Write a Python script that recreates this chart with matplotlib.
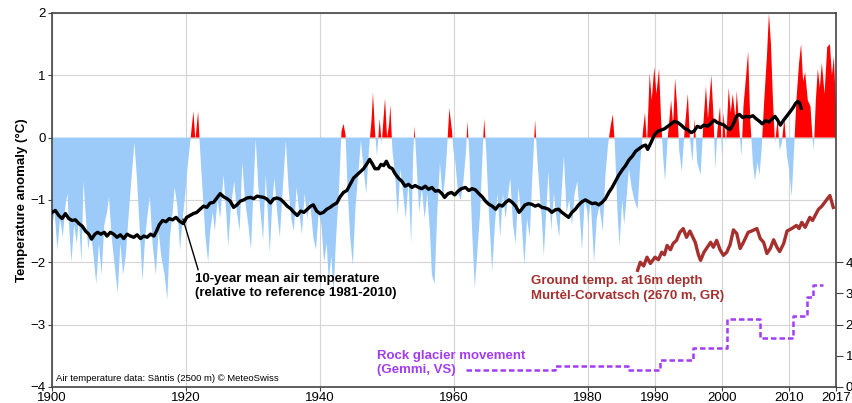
import matplotlib
matplotlib.use('Agg')
import matplotlib.pyplot as plt
import numpy as np

plt.rcParams['font.family'] = ['Liberation Sans', 'DejaVu Sans']
plt.rcParams['font.size'] = 9.5

# air temperature anomaly, Saentis (deg C, vertices of the curve)
air_years = [
    1900.0, 1900.4, 1900.8, 1901.2, 1901.6, 1902.0, 1902.3, 1902.6, 1902.9, 1903.3,
    1903.7, 1904.0, 1904.4, 1904.7, 1905.0, 1905.4, 1905.8, 1906.2, 1906.6, 1907.0,
    1907.4, 1907.8, 1908.2, 1908.5, 1908.9, 1909.3, 1909.8, 1910.2, 1910.6, 1911.0,
    1911.4, 1911.9, 1912.3, 1912.7, 1913.1, 1913.5, 1913.9, 1914.3, 1914.6, 1915.0,
    1915.5, 1915.9, 1916.3, 1916.8, 1917.2, 1917.6, 1918.0, 1918.3, 1918.7, 1919.1,
    1919.5, 1919.9,
    1920.2, 1920.6, 1921.1, 1921.4, 1921.8, 1922.1, 1922.5, 1922.9, 1923.3, 1923.6,
    1924.0, 1924.3, 1924.7, 1925.1, 1925.6, 1926.0, 1926.3, 1926.7, 1927.2, 1927.6,
    1928.0, 1928.4, 1928.8, 1929.3, 1929.7, 1930.0, 1930.4, 1930.8, 1931.2, 1931.5,
    1931.9, 1932.2, 1932.5, 1932.9, 1933.2, 1933.6, 1934.0, 1934.4, 1934.9, 1935.3,
    1935.7, 1936.1, 1936.5, 1936.9, 1937.3, 1937.7, 1938.1, 1938.5, 1939.0, 1939.4,
    1939.8,
    1940.2, 1940.6, 1941.0, 1941.3, 1941.7, 1942.0, 1942.4, 1942.8, 1943.2, 1943.5,
    1943.8, 1944.1, 1944.5, 1944.9, 1945.3, 1945.7, 1946.1, 1946.5, 1946.9, 1947.3,
    1947.7, 1947.9, 1948.2, 1948.5, 1948.9, 1949.2, 1949.7, 1950.0, 1950.3, 1950.5,
    1950.8, 1951.2, 1951.6, 1952.0, 1952.4, 1952.8, 1953.2, 1953.6, 1953.9, 1954.1,
    1954.4, 1954.8, 1955.2, 1955.6, 1956.0, 1956.4, 1956.7, 1957.1, 1957.5, 1957.9,
    1958.3, 1958.7, 1959.0, 1959.3, 1959.7, 1959.9,
    1960.2, 1960.6, 1961.0, 1961.4, 1961.8, 1962.0, 1962.3, 1962.7, 1963.1, 1963.5,
    1963.9, 1964.2, 1964.5, 1964.8, 1965.2, 1965.7, 1966.1, 1966.5, 1966.9, 1967.3,
    1967.7, 1968.1, 1968.4, 1968.8, 1969.2, 1969.6, 1970.0, 1970.5, 1970.9, 1971.3,
    1971.7, 1972.1, 1972.4, 1972.8, 1973.1, 1973.4, 1973.8, 1974.1, 1974.5, 1974.9,
    1975.3, 1975.7, 1976.1, 1976.4, 1976.8, 1977.2, 1977.6, 1978.0, 1978.4, 1978.8,
    1979.1, 1979.5, 1979.9,
    1980.0, 1980.4, 1980.9, 1981.3, 1981.7, 1982.2, 1982.6, 1983.0, 1983.4, 1983.7,
    1984.0, 1984.4, 1984.7, 1985.1, 1985.4, 1985.8, 1986.1, 1986.5, 1986.9, 1987.4,
    1987.8, 1988.2, 1988.5, 1988.8, 1989.2, 1989.5, 1989.9, 1990.2, 1990.6, 1990.9,
    1991.2, 1991.5, 1991.9, 1992.4, 1992.7, 1993.0, 1993.3, 1993.6, 1994.0, 1994.4,
    1994.9, 1995.2, 1995.6, 1995.9, 1996.3, 1996.8, 1997.2, 1997.6, 1997.9, 1998.4,
    1998.7, 1999.0, 1999.3, 1999.7, 2000.0,
    2000.2, 2000.6, 2001.0, 2001.3, 2001.6, 2002.0, 2002.2, 2002.6, 2002.9, 2003.2,
    2003.6, 2003.9, 2004.2, 2004.6, 2004.9, 2005.3, 2005.6, 2005.9, 2006.3, 2006.7,
    2007.0, 2007.3, 2007.6, 2007.9, 2008.3, 2008.6, 2008.9, 2009.3, 2009.7, 2010.0,
    2010.4, 2010.7, 2011.1, 2011.5, 2011.8, 2012.1, 2012.4, 2012.8, 2013.2, 2013.5,
    2013.7, 2014.0, 2014.3, 2014.6, 2014.9, 2015.3, 2015.7, 2016.1, 2016.4, 2016.7,
    2017.0,
]
air_anom = [
    -1.4, -1.2, -1.8, -1.3, -1.6, -1.1, -0.9, -1.5, -2.0, -1.4,
    -1.7, -1.3, -2.0, -0.7, -1.2, -1.8, -1.5, -1.9, -2.35, -1.7,
    -2.2, -1.4, -1.2, -0.95, -1.6, -2.0, -2.5, -1.7, -2.2, -1.9,
    -1.3, -0.6, -0.08, -0.7, -1.5, -2.3, -1.6, -1.2, -0.95, -1.7,
    -2.2, -1.5, -1.9, -2.2, -2.6, -1.6, -1.2, -0.8, -1.1, -1.8,
    -1.3, -0.9,
    -0.5, -0.1, 0.42, -0.05, 0.42, -0.2, -0.9, -1.6, -2.0, -1.5,
    -1.2, -1.5, -1.0, -1.3, -0.6, -1.2, -1.75, -1.1, -0.7, -1.2,
    -1.5, -0.4, -1.0, -1.4, -1.8, -1.0, -0.02, -0.8, -1.3, -1.65,
    -0.6, -1.2, -1.85, -1.0, -0.65, -1.2, -1.6, -0.9, -0.05, -0.8,
    -1.3, -1.5, -0.8, -1.2, -1.55, -0.9, -1.3, -1.0, -1.6, -1.8,
    -1.2,
    -1.4, -2.0, -1.7, -2.3, -1.9, -2.5, -1.6, -0.9, 0.1, 0.22,
    0.05, -0.8, -1.6, -2.05, -1.1, -0.6, -0.05, -0.5, -0.9, -0.2,
    0.3, 0.72, 0.1, -0.3, 0.3, -0.1, 0.63, 0.0, 0.2, 0.52,
    -0.2, -0.6, -1.25, -0.5, -0.9, -1.3, -0.7, -1.7, -0.3, 0.18,
    -0.4, -1.2, -0.8, -1.3, -0.9, -1.5, -2.2, -2.35, -1.2, -0.4,
    -1.0, -0.6, -0.1, 0.47, 0.1, -0.2,
    -0.4, -0.9, -1.0, -0.7, -0.2, 0.26, -0.3, -1.5, -2.42, -1.8,
    -1.2, -0.4, 0.3, -0.2, -1.2, -2.15, -1.4, -0.9, -1.6, -0.9,
    -1.3, -0.9, -0.65, -1.4, -1.7, -0.8, -1.2, -2.05, -1.3, -1.6,
    -0.6, 0.28, -0.3, -0.9, -1.3, -1.9, -1.1, -0.55, -1.5, -0.9,
    -1.3, -1.6, -0.8, -0.3, -1.2, -1.0, -1.4, -0.9, -0.7, -1.3,
    -1.8, -1.0, -1.2,
    -1.4, -1.0, -2.0, -1.3, -1.1, -1.5, -0.6, -0.1, 0.2, 0.37,
    -0.1, -1.2, -1.75, -1.0, -1.4, -0.9, -0.5, -0.8, -1.0, -1.15,
    -0.4, 0.1, 0.4, -0.1, 1.03, 0.6, 1.13, 0.7, 1.1, 0.3,
    -0.3, -0.7, 0.0, 0.6, 0.2, 0.95, 0.5, -0.2, -0.55, 0.1,
    0.7, 0.0, -0.4, 0.3, -0.4, -0.6, 0.2, 0.82, 0.3, 1.0,
    0.4, -0.5, 0.1, 0.5, -0.3,
    0.4, -0.1, 0.8, 0.4, 0.7, 0.3, 0.75, 0.1, -0.3, 0.5,
    1.0, 1.38, 0.3, -0.4, -0.69, -0.4, -0.6, -0.2, 0.6, 1.3,
    1.99, 1.5, 0.6, -0.1, 0.3, -0.2, -0.1, 0.3, -0.3, -0.5,
    -0.95, -0.3, 0.6, 1.2, 1.5, 0.9, 1.05, 0.6, 0.5, 0.0,
    -0.2, 0.6, 1.1, 0.8, 1.2, 0.7, 1.45, 1.5, 1.0, 1.3,
    0.5,
]

# 10-year mean air temperature (deg C)
mean_years = [
    1900.0, 1900.5, 1901.0, 1901.5, 1902.0, 1902.5, 1903.0, 1903.5, 1904.0, 1904.5,
    1905.0, 1905.5, 1905.9, 1906.4, 1906.8, 1907.3, 1907.8, 1908.2, 1908.7, 1909.2,
    1909.7, 1910.2, 1910.7, 1911.2, 1911.7, 1912.2, 1912.7, 1913.2, 1913.7, 1914.2,
    1914.7, 1915.2, 1915.6, 1916.0, 1916.5, 1917.0, 1917.5, 1918.0, 1918.5, 1919.0,
    1919.6, 1920.1, 1920.6, 1921.1, 1921.6, 1922.1, 1922.6, 1923.1, 1923.6, 1924.1,
    1924.6, 1925.1, 1925.6, 1926.1, 1926.6, 1927.1, 1927.6, 1928.1, 1928.6, 1929.1,
    1929.6, 1930.1, 1930.6, 1931.1, 1931.6, 1932.1, 1932.6, 1933.1, 1933.6, 1934.1,
    1934.6, 1935.1, 1935.6, 1936.1, 1936.6, 1937.1, 1937.6, 1938.1, 1938.6, 1939.0,
    1939.5, 1940.0, 1940.5, 1941.0, 1941.5, 1942.0, 1942.5, 1943.0, 1943.5, 1944.0,
    1944.5, 1945.0, 1945.5, 1946.0, 1946.5, 1947.0, 1947.4, 1947.8, 1948.2, 1948.7,
    1949.1, 1949.5, 1949.9, 1950.3, 1950.8, 1951.2, 1951.7, 1952.2, 1952.7, 1953.2,
    1953.7, 1954.2, 1954.7, 1955.2, 1955.7, 1956.2, 1956.7, 1957.2, 1957.7, 1958.2,
    1958.6, 1959.1, 1959.6, 1960.1, 1960.6, 1961.1, 1961.7, 1962.2, 1962.7, 1963.2,
    1963.7, 1964.2, 1964.7, 1965.2, 1965.7, 1966.2, 1966.7, 1967.2, 1967.7, 1968.2,
    1968.7, 1969.2, 1969.7, 1970.1, 1970.6, 1971.1, 1971.6, 1972.1, 1972.6, 1973.1,
    1973.6, 1974.1, 1974.6, 1975.1, 1975.6, 1976.1, 1976.6, 1977.1, 1977.6, 1978.1,
    1978.6, 1979.1, 1979.6, 1980.1, 1980.6, 1981.1, 1981.6, 1982.1, 1982.6, 1983.1,
    1983.6, 1984.1, 1984.6, 1985.1, 1985.6, 1986.1, 1986.6, 1987.1, 1987.6, 1988.1,
    1988.6, 1988.9, 1989.4, 1989.9, 1990.4, 1990.9, 1991.4, 1991.9, 1992.4, 1992.9,
    1993.4, 1993.9, 1994.4, 1994.9, 1995.4, 1995.8, 1996.3, 1996.8, 1997.3, 1997.8,
    1998.3, 1998.8, 1999.3, 1999.8, 2000.3, 2000.8, 2001.2, 2001.7, 2002.2, 2002.6,
    2003.1, 2003.6, 2004.1, 2004.6, 2005.1, 2005.6, 2006.0, 2006.5, 2007.0, 2007.5,
    2007.9, 2008.3, 2008.7, 2009.2, 2009.7, 2010.2, 2010.6, 2011.0, 2011.3, 2011.6,
    2011.8,
]
mean_temp = [
    -1.2, -1.17, -1.25, -1.3, -1.22, -1.3, -1.33, -1.32, -1.38, -1.42,
    -1.5, -1.55, -1.63, -1.55, -1.52, -1.55, -1.52, -1.58, -1.52, -1.55,
    -1.6, -1.56, -1.62, -1.55, -1.58, -1.6, -1.56, -1.62, -1.58, -1.6,
    -1.55, -1.58, -1.5, -1.4, -1.33, -1.35, -1.3, -1.32, -1.28, -1.34,
    -1.38, -1.28, -1.25, -1.22, -1.2, -1.15, -1.1, -1.12, -1.05, -1.04,
    -0.97, -0.9, -0.95, -0.98, -1.02, -1.12, -1.08, -1.02, -1.0, -0.97,
    -0.96, -0.98, -0.94, -0.95, -0.96, -0.99, -1.05, -0.98, -0.97, -0.99,
    -1.04, -1.1, -1.14, -1.2, -1.25, -1.18, -1.2, -1.15, -1.1, -1.08,
    -1.18, -1.22, -1.2, -1.15, -1.12, -1.08, -1.05, -0.95, -0.88, -0.85,
    -0.75, -0.65, -0.6, -0.55, -0.5, -0.42, -0.35, -0.42, -0.5, -0.5,
    -0.43, -0.45, -0.38, -0.47, -0.5, -0.58, -0.65, -0.7, -0.78, -0.75,
    -0.8, -0.77, -0.8, -0.82, -0.78, -0.83, -0.8, -0.86, -0.85, -0.9,
    -0.96, -0.9, -0.88, -0.92, -0.86, -0.82, -0.8, -0.85, -0.82, -0.84,
    -0.9, -0.95, -1.02, -1.07, -1.1, -1.15, -1.08, -1.1, -1.04, -1.0,
    -1.04, -1.1, -1.2, -1.15, -1.08, -1.06, -1.07, -1.1, -1.08, -1.12,
    -1.13, -1.15, -1.2, -1.16, -1.15, -1.2, -1.24, -1.28, -1.2, -1.15,
    -1.08, -1.03, -1.0, -1.03, -1.06, -1.05, -1.08, -1.04, -0.98, -0.88,
    -0.8, -0.7, -0.6, -0.52, -0.45, -0.36, -0.3, -0.22, -0.18, -0.14,
    -0.12, -0.19, -0.08, 0.04, 0.1, 0.12, 0.14, 0.18, 0.22, 0.26,
    0.24, 0.2, 0.15, 0.12, 0.08, 0.1, 0.18, 0.16, 0.2, 0.18,
    0.22, 0.28, 0.24, 0.22, 0.2, 0.15, 0.13, 0.22, 0.35, 0.37,
    0.32, 0.34, 0.33, 0.35, 0.3, 0.26, 0.22, 0.27, 0.25, 0.3,
    0.34, 0.28, 0.2, 0.28, 0.35, 0.42, 0.48, 0.55, 0.58, 0.55,
    0.47,
]

# ground temperature at 16 m depth, Murtel-Corvatsch (drawn on the left scale)
ground_years = [
    1987.4, 1987.8, 1988.3, 1988.8, 1989.3, 1990.0, 1990.5, 1991.0, 1991.4, 1991.8,
    1992.3, 1992.7, 1993.2, 1993.7, 1994.2, 1994.7, 1995.2, 1996.0, 1996.5, 1996.8,
    1997.3, 1997.8, 1998.3, 1998.7, 1999.2, 1999.7, 2000.2, 2000.7, 2001.2, 2001.7,
    2002.2, 2002.7, 2003.2, 2003.9, 2004.4, 2005.2, 2005.7, 2006.2, 2006.7, 2007.2,
    2007.7, 2008.2, 2008.6, 2009.2, 2009.7, 2010.4, 2011.1, 2011.5, 2011.9, 2012.4,
    2013.1, 2013.5, 2014.4, 2014.9, 2015.6, 2016.1, 2016.6,
]
ground_temp = [
    -2.13, -2.0, -2.06, -1.92, -2.02, -1.92, -1.96, -1.84, -1.88, -1.73,
    -1.8, -1.7, -1.65, -1.52, -1.46, -1.6, -1.5, -1.68, -1.89, -1.97,
    -1.84, -1.76, -1.68, -1.76, -1.65, -1.8, -1.89, -1.84, -1.72, -1.48,
    -1.54, -1.78, -1.68, -1.52, -1.5, -1.46, -1.62, -1.68, -1.86, -1.78,
    -1.64, -1.76, -1.83, -1.7, -1.5, -1.46, -1.41, -1.46, -1.36, -1.44,
    -1.28, -1.33, -1.15, -1.1, -1.0, -0.93, -1.12,
]

# rock glacier movement, Gemmi (right scale)
rock_years = [1961.8, 1975.0, 1986.0, 1990.7, 1995.7, 2000.7, 2005.7, 2010.6, 2012.7, 2013.6, 2015.0]
rock_speed = [0.54, 0.67, 0.54, 0.86, 1.24, 2.19, 1.56, 2.28, 2.89, 3.27, 3.27]

xticks = [1900, 1920, 1940, 1960, 1980, 1990, 2000, 2010, 2017]

blue = '#9ccbfa'
red = '#ff0000'
brown = '#a5302e'
purple = '#a23cf5'

fig = plt.figure(figsize=(8.53, 4.03), dpi=100)
ax = fig.add_axes([0.061, 0.04, 0.919, 0.928])

x = np.array(air_years)
y = np.array(air_anom)
ax.fill_between(x, y, 0, where=y <= 0, interpolate=True, color=blue, lw=0, zorder=2)
ax.fill_between(x, y, 0, where=y >= 0, interpolate=True, color=red, lw=0, zorder=2)

ax.plot(mean_years, mean_temp, color='black', lw=2.4, zorder=4)
ax.plot(ground_years, ground_temp, color=brown, lw=2.4, zorder=4)

ax.set_xlim(1900, 2017)
ax.set_ylim(-4, 2)
ax.set_xticks(xticks)
ax.set_yticks(range(-4, 3))
ax.grid(True, color='#d4d4d4', lw=0.8)
ax.set_axisbelow(True)
ax.tick_params(length=3, pad=1.5, color='#444444')
ax.tick_params(axis='x', pad=0.5)
for s in ax.spines.values():
    s.set_color('#444444')
    s.set_linewidth(1.2)
ax.set_ylabel('Temperature anomaly (°C)', fontweight='bold', fontsize=9.5, labelpad=2)

ax2 = ax.twinx()
ax2.step(rock_years, rock_speed, where='post', color=purple, lw=1.8,
         linestyle=(0, (2.2, 1.2)), zorder=4)
ax2.set_ylim(0, 12)
ax2.set_yticks(range(0, 5))
ax2.tick_params(length=5, pad=2, color='#444444')
for s in ax2.spines.values():
    s.set_visible(False)

# annotations
ax.plot([1919.55, 1921.8], [-1.31, -2.12], color='black', lw=1, zorder=5)
ax.text(1921.3, -2.38, '10-year mean air temperature\n(relative to reference 1981-2010)',
        fontweight='bold', fontsize=9.5, ha='left', va='center', linespacing=1.25)
ax.text(1971.5, -2.42, 'Ground temp. at 16m depth\nMurtèl-Corvatsch (2670 m, GR)',
        fontweight='bold', fontsize=9.5, color=brown, ha='left', va='center', linespacing=1.25)
ax.text(1948.5, -3.62, 'Rock glacier movement\n(Gemmi, VS)',
        fontweight='bold', fontsize=9.5, color=purple, ha='left', va='center', linespacing=1.25)
ax.text(1900.6, -3.86, 'Air temperature data: Säntis (2500 m) © MeteoSwiss',
        fontsize=6.8, ha='left', va='center')

fig.savefig('out.png', dpi=100)
